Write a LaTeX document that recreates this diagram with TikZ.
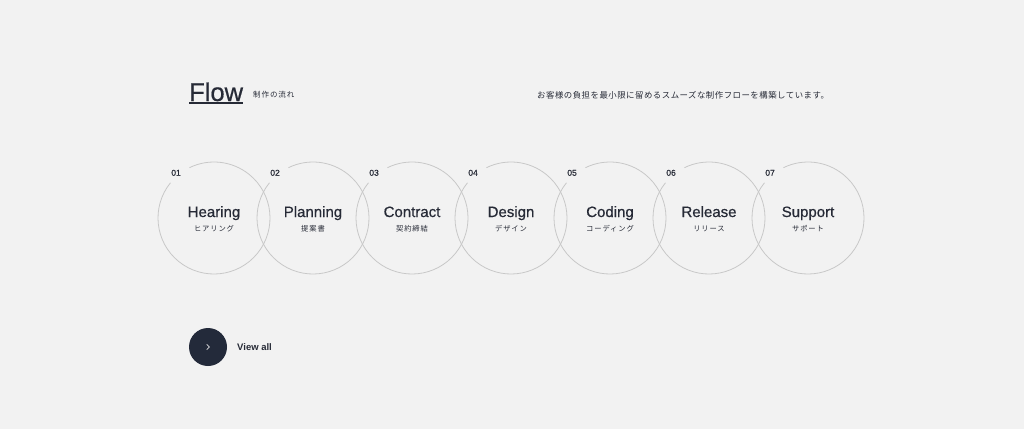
\documentclass[tikz,border=0pt]{standalone}
\usepackage{fontspec}
\setmainfont{Liberation Sans}
\newfontfamily\midfont[FakeBold=0.6]{Liberation Sans}
\newfontfamily\jpfont{Noto Sans CJK JP}
\newfontfamily\jpwide[LetterSpace=12]{Noto Sans CJK JP}
\newfontfamily\jplead[LetterSpace=6]{Noto Sans CJK JP}
\usetikzlibrary{calc}
\definecolor{bgcol}{HTML}{F2F2F2}
\definecolor{ink}{HTML}{262A36}
\definecolor{ringcol}{HTML}{C8C8C8}
\definecolor{btncol}{HTML}{232A3A}

\begin{document}
\begin{tikzpicture}[x=1pt,y=-1pt,
  steptitle/.style={font=\midfont\fontsize{15}{15}\selectfont, text=ink, inner sep=0},
  stepsub/.style={font=\jpwide\fontsize{7.3}{7.3}\selectfont, text=ink, inner sep=0},
  stepnum/.style={font=\midfont\fontsize{8.5}{8.5}\selectfont, text=ink, inner sep=0},
  ring/.style={ringcol, line width=0.8pt}]
\fill[bgcol] (0,0) rectangle (1024,429);
\useasboundingbox (0,0) rectangle (1024,429);

% heading
\node[anchor=base west, inner sep=0, text=ink, font=\midfont\fontsize{25.5}{25.5}\selectfont] (flow) at (189,101) {Flow};
\draw[ink, line width=1.6pt] ([yshift=-2pt]flow.base west) -- ([yshift=-2pt]flow.base east);
\node[anchor=west, inner sep=0, text=ink, font=\jpwide\fontsize{7.5}{7.5}\selectfont] (flowsub) at (253,95) {制作の流れ};
\node[anchor=west, inner sep=0, text=ink, font=\jplead\fontsize{8.4}{8.4}\selectfont] (lead) at (537,95) {お客様の負担を最小限に留めるスムーズな制作フローを構築しています。};

% steps
\foreach \num/\en/\jp [count=\i] in {01/Hearing/ヒアリング, 02/Planning/提案書, 03/Contract/契約締結, 04/Design/デザイン, 05/Coding/コーディング, 06/Release/リリース, 07/Support/サポート} {
  \coordinate (s\i) at ({214+99*(\i-1)},218);
  \draw[ring] ($(s\i)+(-141:56)$) arc(-141:-476:56);
  \node[stepnum] (n\i) at ($(s\i)+(-130:59)$) {\num};
  \node[steptitle, anchor=base] (t\i) at ($(s\i)+(0,-1)$) {\en};
  \node[stepsub] (j\i) at ($(s\i)+(0,11)$) {\jp};
}

% view all
\node[circle, fill=btncol, minimum size=38, inner sep=0] (btn) at (208,347) {};
\draw[white!85!btncol, line width=0.7pt] ([shift={(-1.3,-2.6)}]btn.center) -- ([shift={(1.3,0)}]btn.center) -- ([shift={(-1.3,2.6)}]btn.center);
\node[anchor=west, inner sep=0, text=ink, font=\bfseries\fontsize{9.5}{9.5}\selectfont] (more) at (237,347) {View all};
\end{tikzpicture}
\end{document}
